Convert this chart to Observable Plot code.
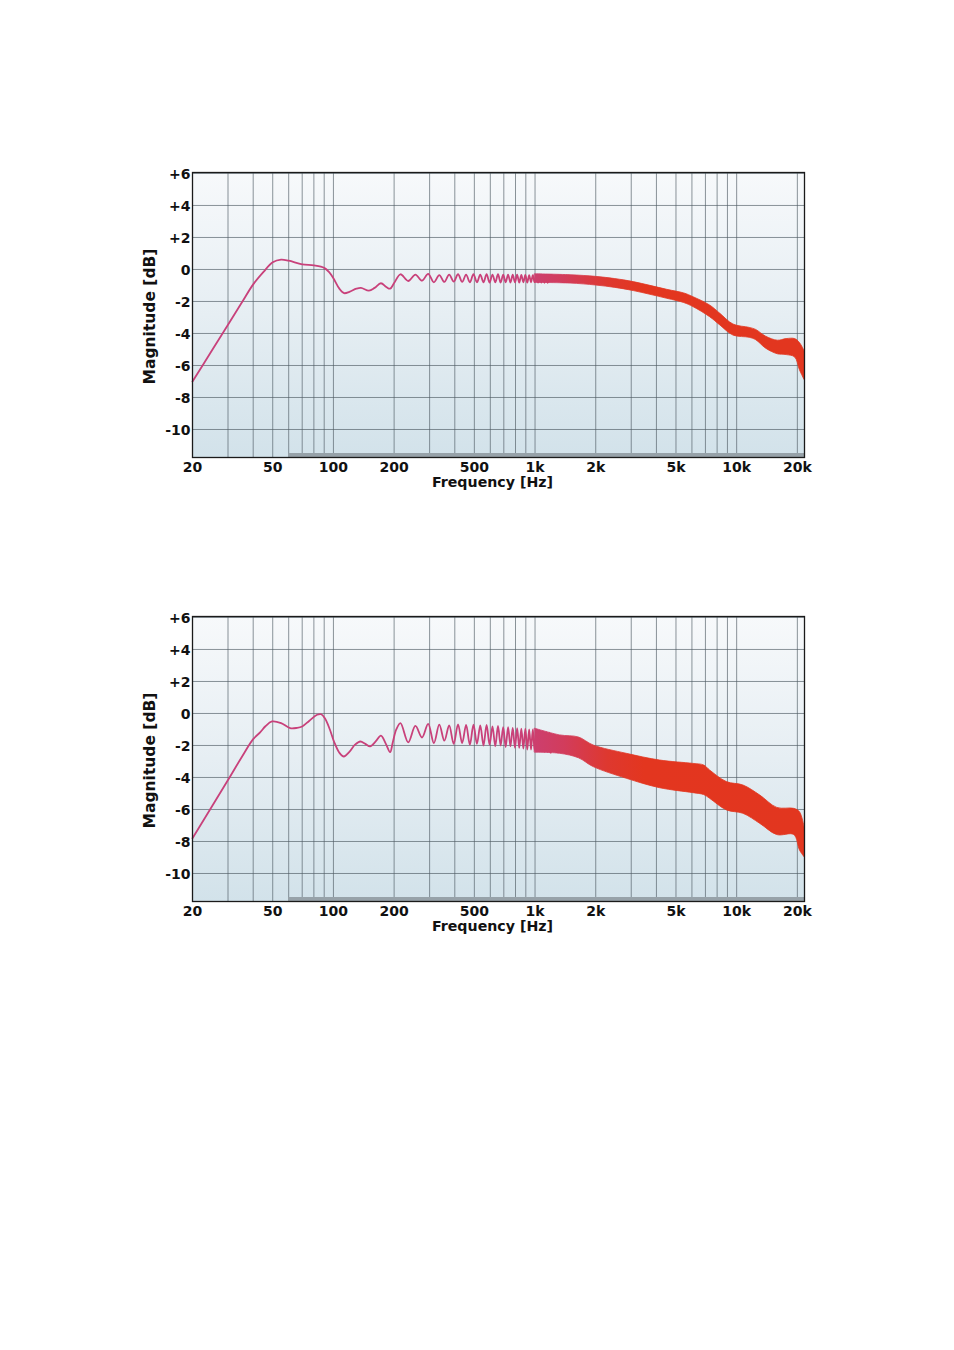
<!DOCTYPE html>
<html>
<head>
<meta charset="utf-8">
<script src="https://cdn.jsdelivr.net/npm/d3@7"></script>
<script src="https://cdn.jsdelivr.net/npm/@observablehq/plot@0.6"></script>
<style>
  body { margin: 0; background: #fff; }
  #wrap { padding-top: 72px; width: 954px; }
  #wrap svg { display: block; }
</style>
</head>
<body>
<div id="wrap"></div>
<script>
// ---------- tick / grid values ----------
const xTicks = [20, 50, 100, 200, 500, 1000, 2000, 5000, 10000, 20000];
const xTickLabels = ["20", "50", "100", "200", "500", "1k", "2k", "5k", "10k", "20k"];
const yTicks = [6, 4, 2, 0, -2, -4, -6, -8, -10];
const yTickLabels = ["+6", "+4", "+2", "0", "-2", "-4", "-6", "-8", "-10"];
const xGrid = [20, 30, 40, 50, 60, 70, 80, 90, 100, 200, 300, 400, 500, 600, 700, 800, 900,
  1000, 2000, 3000, 4000, 5000, 6000, 7000, 8000, 9000, 10000, 20000];
const yGrid = [-10, -8, -6, -4, -2, 0, 2, 4, 6];
const xLabel = "Frequency [Hz]";
const yLabel = "Magnitude [dB]";
const noiseFloorFrom = [60];

// ---------- chart 1 (top) : line part ----------
const freq1 = [20, 25, 30, 35, 40, 45, 50, 55, 60, 70, 80, 90, 95, 100, 107, 113, 120, 130, 137, 150, 160, 172, 183, 191, 200,
  215, 235, 255, 275, 295, 315, 335, 355, 375, 395, 415, 435, 455, 475, 495, 515, 535, 555, 575, 595,
  615, 635, 655, 675, 695, 715, 735, 755, 775, 795, 815, 835, 855, 875, 895, 915, 935, 955, 975, 995,
  1015, 1035, 1055, 1075, 1095, 1115, 1135, 1155, 1175];
const mag1 = [-7.0, -5.05, -3.45, -2.1, -0.93, -0.15, 0.45, 0.62, 0.55, 0.32, 0.25, 0.1, -0.15, -0.55, -1.2, -1.48, -1.4, -1.2, -1.15, -1.32, -1.15, -0.86, -1.1, -1.2, -0.85,
  -0.30, -0.72, -0.32, -0.70, -0.27, -0.80, -0.35, -0.78, -0.32, -0.76, -0.30, -0.78, -0.32, -0.80, -0.30, -0.80, -0.32, -0.80, -0.30, -0.82,
  -0.32, -0.80, -0.30, -0.82, -0.33, -0.80, -0.32, -0.82, -0.33, -0.80, -0.33, -0.82, -0.34, -0.80, -0.34, -0.82, -0.35, -0.80, -0.35, -0.80,
  -0.35, -0.82, -0.35, -0.82, -0.36, -0.83, -0.36, -0.84, -0.37];
// chart 1 : dense ripple envelope
const bandF1 = [1000, 1500, 2000, 2500, 3085, 4520, 5500, 6100, 7380, 8300, 9640, 11600, 12500, 14000, 16000, 17700, 19500, 20600, 21700];
const bandHi1 = [-0.30, -0.36, -0.46, -0.60, -0.79, -1.27, -1.50, -1.73, -2.25, -2.77, -3.44, -3.65, -3.78, -4.20, -4.45, -4.35, -4.35, -4.60, -5.10];
const bandLo1 = [-0.84, -0.88, -1.00, -1.15, -1.35, -1.83, -2.10, -2.35, -2.98, -3.50, -4.13, -4.27, -4.42, -4.95, -5.30, -5.35, -5.50, -6.30, -6.90];

// ---------- chart 2 (bottom) : line part ----------
const freq2 = [20, 25, 30, 35, 40, 43.4, 46, 49.6, 55, 61, 66, 70, 76, 83, 87, 91, 96, 101, 107, 112.6, 120, 128, 136, 144, 152, 162, 172, 182, 191, 197, 205,
  215, 235, 255, 275, 295, 315, 335, 355, 375, 395, 415, 435, 455, 475, 495, 515, 535, 555, 575, 595,
  615, 635, 655, 675, 695, 715, 735, 755, 775, 795, 815, 835, 855, 875, 895, 915, 935, 955, 975, 995,
  1015, 1035, 1055, 1075, 1095, 1115, 1135, 1155, 1175, 1195];
const mag2 = [-7.8, -5.8, -4.16, -2.75, -1.6, -1.17, -0.8, -0.5, -0.6, -0.92, -0.9, -0.81, -0.45, -0.08, -0.05, -0.33, -1.0, -1.8, -2.45, -2.69, -2.4, -1.95, -1.75, -1.9, -2.06, -1.75, -1.38, -1.9, -2.42, -1.8, -1.0,
  -0.60, -1.80, -0.78, -1.50, -0.65, -1.85, -0.70, -1.70, -0.75, -1.90, -0.68, -1.85, -0.72, -1.95, -0.70, -1.90, -0.75, -2.00, -0.72, -1.95,
  -0.80, -2.05, -0.78, -2.00, -0.85, -2.10, -0.85, -2.05, -0.90, -2.15, -0.92, -2.15, -0.95, -2.20, -0.95, -2.25, -1.00, -2.25, -1.00, -2.30,
  -1.05, -2.30, -1.10, -2.35, -1.12, -2.40, -1.15, -2.40, -1.20, -2.45];
// chart 2 : dense ripple envelope
const bandF2 = [1000, 1332, 1650, 1952, 2850, 4170, 6100, 6900, 7380, 8950, 10800, 13100, 15900, 19300, 20600, 21700];
const bandHi2 = [-0.95, -1.37, -1.50, -2.00, -2.52, -2.94, -3.15, -3.25, -3.56, -4.29, -4.50, -5.13, -5.90, -5.96, -6.17, -7.10];
const bandLo2 = [-2.45, -2.52, -2.80, -3.35, -4.08, -4.67, -4.98, -5.10, -5.33, -6.06, -6.27, -6.90, -7.60, -7.60, -8.56, -8.98];

// ---------- helpers ----------
const xDomain = [20, 21700];
const yDomain = [-11.75, 6.06];
const colorStops = [[20, "#c8417b"], [800, "#c9417a"], [1400, "#d23c5c"], [2300, "#de382f"], [3500, "#e3361f"], [21700, "#e2361f"]];
const lbl = Object.fromEntries(xTicks.map((t, i) => [t, xTickLabels[i]]));
const ylbl = Object.fromEntries(yTicks.map((t, i) => [t, yTickLabels[i]]));

function chart(id, freq, mag, bF, bHi, bLo) {
  const line = freq.map((f, i) => ({f, m: mag[i]}));
  const band = bF.map((f, i) => ({f, hi: bHi[i], lo: bLo[i]}));
  const svg = Plot.plot({
    width: 954,
    height: 444,
    marginTop: 100,
    marginBottom: 59,
    marginLeft: 192,
    marginRight: 150,
    style: {fontFamily: "'DejaVu Sans', Verdana, sans-serif", fontWeight: "bold", fontSize: "14px", color: "#111", background: "transparent", overflow: "visible"},
    x: {type: "log", domain: xDomain, axis: null},
    y: {domain: yDomain, axis: null},
    marks: [
      Plot.frame({fill: `url(#bg${id})`}),
      Plot.ruleX(xGrid, {stroke: "#4e5a62", strokeOpacity: 0.65, strokeWidth: 1}),
      Plot.ruleY(yGrid, {stroke: "#4e5a62", strokeOpacity: 0.65, strokeWidth: 1}),
      Plot.rect(noiseFloorFrom, {x1: d => d, x2: xDomain[1], y1: yDomain[0], y2: yDomain[0] + 0.25, fill: "#97a2a9"}),
      Plot.areaY(band, {x: "f", y1: "lo", y2: "hi", fill: `url(#ln${id})`, stroke: `url(#ln${id})`, strokeWidth: 0.8, curve: "catmull-rom"}),
      Plot.line(line, {x: "f", y: "m", stroke: `url(#ln${id})`, strokeWidth: 1.8, curve: "catmull-rom"}),
      Plot.frame({stroke: "#1a1a1a", strokeWidth: 1.3}),
      Plot.text(xTicks, {x: d => d, frameAnchor: "bottom", lineAnchor: "middle", textAnchor: "middle", dy: 10, text: d => lbl[d], fill: "#111"}),
      Plot.text(yTicks, {y: d => d, frameAnchor: "left", lineAnchor: "middle", textAnchor: "end", dx: -2, dy: 1, text: d => ylbl[d], fill: "#111"}),
      Plot.text([xLabel], {frameAnchor: "bottom", lineAnchor: "middle", textAnchor: "middle", dy: 25, dx: -6, fontSize: 14.2, text: d => d, fill: "#111"}),
      Plot.text([yLabel], {frameAnchor: "left", lineAnchor: "middle", textAnchor: "middle", dx: -42, dy: 1.5, rotate: -90, fontSize: 15.5, text: d => d, fill: "#111"})
    ]
  });
  const ns = "http://www.w3.org/2000/svg";
  const xs = svg.scale("x");
  const defs = document.createElementNS(ns, "defs");
  const bg = document.createElementNS(ns, "linearGradient");
  bg.setAttribute("id", `bg${id}`);
  bg.setAttribute("x1", "0"); bg.setAttribute("y1", "0");
  bg.setAttribute("x2", "0"); bg.setAttribute("y2", "1");
  [["0", "#f7f9fb"], ["0.5", "#e6eef3"], ["1", "#d2e2ea"]].forEach(([o, c]) => {
    const s = document.createElementNS(ns, "stop");
    s.setAttribute("offset", o); s.setAttribute("stop-color", c); bg.appendChild(s);
  });
  defs.appendChild(bg);
  const lg = document.createElementNS(ns, "linearGradient");
  lg.setAttribute("id", `ln${id}`);
  lg.setAttribute("gradientUnits", "userSpaceOnUse");
  const x0 = xs.apply(xDomain[0]), x1 = xs.apply(xDomain[1]);
  lg.setAttribute("x1", x0); lg.setAttribute("y1", 0);
  lg.setAttribute("x2", x1); lg.setAttribute("y2", 0);
  colorStops.forEach(([f, c]) => {
    const s = document.createElementNS(ns, "stop");
    s.setAttribute("offset", (xs.apply(f) - x0) / (x1 - x0));
    s.setAttribute("stop-color", c); lg.appendChild(s);
  });
  defs.appendChild(lg);
  svg.insertBefore(defs, svg.firstChild);
  return svg;
}

const wrap = document.getElementById("wrap");
wrap.appendChild(chart(1, freq1, mag1, bandF1, bandHi1, bandLo1));
wrap.appendChild(chart(2, freq2, mag2, bandF2, bandHi2, bandLo2));
</script>
</body>
</html>
